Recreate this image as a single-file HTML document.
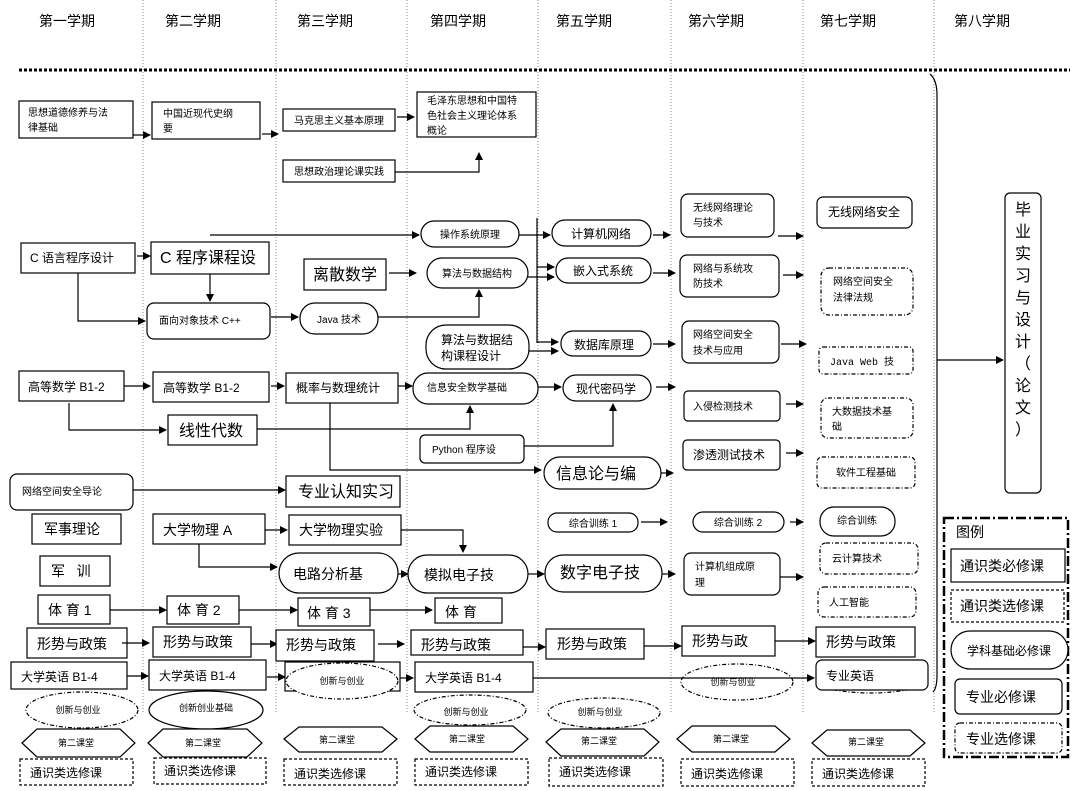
<!DOCTYPE html>
<html><head><meta charset="utf-8"><style>
html,body{margin:0;padding:0;background:#fff;}
svg{display:block;}
text{font-family:"Liberation Sans","Noto Sans CJK SC",sans-serif;fill:#000;}
.s{font-size:10px;}
.m{font-size:12px;}
.l{font-size:14px;}
.x{font-size:16px;}
.h{font-size:14px;}
rect,ellipse,polygon,path.b{fill:#fff;stroke:#000;stroke-width:1.2;}
.d{stroke-dasharray:4 2 1 2;}
.dd{stroke-dasharray:3 2;}
line,polyline{stroke:#000;stroke-width:1.2;fill:none;}
.col{stroke:#888;stroke-width:1;stroke-dasharray:1 2;}
</style></head><body>
<svg width="1084" height="791" viewBox="0 0 1084 791" xmlns="http://www.w3.org/2000/svg">
<defs><marker id="a" markerWidth="8" markerHeight="8" refX="7" refY="4" orient="auto" markerUnits="userSpaceOnUse"><path d="M0,0 L8,4 L0,8 z" fill="#000"/></marker></defs>

<!-- column lines -->
<line class="col" x1="143" y1="0" x2="143" y2="712"/>
<line class="col" x1="276" y1="0" x2="276" y2="712"/>
<line class="col" x1="407" y1="0" x2="407" y2="712"/>
<line class="col" x1="538" y1="0" x2="538" y2="712"/>
<line class="col" x1="671" y1="0" x2="671" y2="712"/>
<line class="col" x1="803" y1="0" x2="803" y2="712"/>
<line class="col" x1="934" y1="0" x2="934" y2="712"/>

<g class="h" text-anchor="middle">
<text x="67" y="26">第一学期</text><text x="193" y="26">第二学期</text><text x="325" y="26">第三学期</text><text x="458" y="26">第四学期</text>
<text x="584" y="26">第五学期</text><text x="716" y="26">第六学期</text><text x="848" y="26">第七学期</text><text x="982" y="26">第八学期</text>
</g>
<line x1="19" y1="70" x2="1070" y2="70" style="stroke-width:3;stroke-dasharray:3 2"/>
<path d="M930,74 Q937,80 937,95 L937,675 Q937,688 933,692" fill="none" stroke="#000" stroke-width="1.2"/>

<!-- row 1 -->
<rect x="19" y="101" width="114" height="37"/><text class="s" x="28" y="116">思想道德修养与法</text><text class="s" x="28" y="131">律基础</text>
<rect x="152" y="102" width="108" height="37"/><text class="s" x="163" y="117">中国近现代史纲</text><text class="s" x="163" y="132">要</text>
<rect x="283" y="109" width="112" height="22"/><text class="s" x="339" y="124" text-anchor="middle">马克思主义基本原理</text>
<rect x="417" y="92" width="119" height="45"/><text class="s" x="427" y="104">毛泽东思想和中国特</text><text class="s" x="427" y="119">色社会主义理论体系</text><text class="s" x="427" y="134">概论</text>
<rect x="283" y="160" width="112" height="22"/><text class="s" x="339" y="175" text-anchor="middle">思想政治理论课实践</text>
<line x1="133" y1="135" x2="150" y2="135" marker-end="url(#a)"/>
<line x1="262" y1="134" x2="278" y2="134" marker-end="url(#a)"/>
<line x1="397" y1="117" x2="414" y2="117" marker-end="url(#a)"/>
<polyline points="395,172 479,172 479,153" marker-end="url(#a)"/>

<!-- C row -->
<rect x="21" y="243" width="114" height="30"/><text class="m" x="30" y="262">C 语言程序设计</text>
<rect x="151" y="242" width="118" height="32"/><text class="x" x="160" y="263">C 程序课程设</text>
<line x1="137" y1="256" x2="150" y2="256" marker-end="url(#a)"/>
<rect x="304" y="259" width="82" height="31"/><text class="x" x="345" y="280" text-anchor="middle">离散数学</text>
<line x1="389" y1="273" x2="416" y2="273" marker-end="url(#a)"/>
<rect x="427" y="258" width="101" height="30" rx="15"/><text class="s" x="477" y="277" text-anchor="middle">算法与数据结构</text>
<rect x="147" y="303" width="123" height="36" rx="7"/><text class="s" x="159" y="324">面向对象技术 C++</text>
<line x1="210" y1="274" x2="210" y2="301" marker-end="url(#a)"/>
<polyline points="78,273 78,321 145,321" marker-end="url(#a)"/>
<rect x="300" y="303" width="78" height="31" rx="15"/><text class="s" x="339" y="323" text-anchor="middle">Java 技术</text>
<line x1="271" y1="317" x2="298" y2="317" marker-end="url(#a)"/>
<polyline points="378,317 479,317 479,290" marker-end="url(#a)"/>
<rect x="421" y="221" width="98" height="26" rx="13"/><text class="s" x="470" y="238" text-anchor="middle">操作系统原理</text>
<line x1="210" y1="235" x2="419" y2="235" marker-end="url(#a)"/>
<rect x="426" y="325" width="103" height="44" rx="20"/><text class="m" x="441" y="344">算法与数据结</text><text class="m" x="441" y="360">构课程设计</text>

<!-- math row -->
<rect x="19" y="371" width="105" height="30"/><text class="m" x="28" y="391">高等数学 B1-2</text>
<line x1="124" y1="386" x2="150" y2="386" marker-end="url(#a)"/>
<rect x="153" y="372" width="116" height="30"/><text class="m" x="163" y="392">高等数学 B1-2</text>
<line x1="271" y1="386" x2="284" y2="386" marker-end="url(#a)"/>
<rect x="286" y="373" width="112" height="30"/><text class="m" x="296" y="392">概率与数理统计</text>
<line x1="398" y1="386" x2="412" y2="386" marker-end="url(#a)"/>
<rect x="413" y="373" width="125" height="31" rx="15"/><text class="s" x="427" y="391">信息安全数学基础</text>
<rect x="168" y="415" width="89" height="30"/><text class="x" x="179" y="436">线性代数</text>
<polyline points="69,403 69,430 166,430" marker-end="url(#a)"/>
<polyline points="257,429 470,429 470,406" marker-end="url(#a)"/>
<polyline points="330,403 330,470 541,470" marker-end="url(#a)"/>
<rect x="420" y="435" width="104" height="28" rx="5"/><text class="s" x="432" y="453">Python 程序设</text>
<polyline points="524,446 613,446 613,404" marker-end="url(#a)"/>

<!-- col5 -->
<line x1="537" y1="218" x2="537" y2="343"/>
<line x1="519" y1="235" x2="550" y2="235" marker-end="url(#a)"/>
<line x1="537" y1="267" x2="554" y2="267" marker-end="url(#a)"/>
<line x1="528" y1="277" x2="554" y2="277" marker-end="url(#a)"/>
<line x1="537" y1="342" x2="558" y2="342" marker-end="url(#a)"/>
<line x1="529" y1="351" x2="558" y2="351" marker-end="url(#a)"/>
<line x1="538" y1="387" x2="561" y2="387" marker-end="url(#a)"/>
<rect x="552" y="220" width="99" height="26" rx="13"/><text class="m" x="601" y="238" text-anchor="middle">计算机网络</text>
<rect x="556" y="258" width="95" height="25" rx="12"/><text class="m" x="603" y="275" text-anchor="middle">嵌入式系统</text>
<rect x="561" y="331" width="90" height="25" rx="12"/><text class="m" x="604" y="349" text-anchor="middle">数据库原理</text>
<rect x="563" y="375" width="88" height="26" rx="13"/><text class="m" x="606" y="393" text-anchor="middle">现代密码学</text>
<rect x="544" y="457" width="117" height="32" rx="16"/><text class="x" x="596" y="479" text-anchor="middle">信息论与编</text>
<line x1="653" y1="235" x2="670" y2="235" marker-end="url(#a)"/>
<line x1="653" y1="273" x2="675" y2="273" marker-end="url(#a)"/>
<line x1="653" y1="344" x2="675" y2="344" marker-end="url(#a)"/>
<line x1="656" y1="387" x2="675" y2="387" marker-end="url(#a)"/>
<line x1="661" y1="473" x2="673" y2="473" marker-end="url(#a)"/>

<!-- col6 -->
<rect x="681" y="194" width="93" height="43" rx="7"/><text class="s" x="693" y="211">无线网络理论</text><text class="s" x="693" y="226">与技术</text>
<rect x="680" y="255" width="99" height="42" rx="7"/><text class="s" x="693" y="272">网络与系统攻</text><text class="s" x="693" y="287">防技术</text>
<rect x="682" y="321" width="97" height="42" rx="7"/><text class="s" x="693" y="338">网络空间安全</text><text class="s" x="693" y="354">技术与应用</text>
<rect x="684" y="391" width="96" height="30" rx="4"/><text class="s" x="693" y="410">入侵检测技术</text>
<rect x="683" y="440" width="97" height="30" rx="4"/><text class="m" x="693" y="459">渗透测试技术</text>
<line x1="778" y1="236" x2="803" y2="236" marker-end="url(#a)"/>
<line x1="783" y1="275" x2="803" y2="275" marker-end="url(#a)"/>
<line x1="781" y1="344" x2="806" y2="344" marker-end="url(#a)"/>
<line x1="786" y1="404" x2="803" y2="404" marker-end="url(#a)"/>
<line x1="786" y1="453" x2="803" y2="453" marker-end="url(#a)"/>

<!-- col7 -->
<rect x="817" y="197" width="95" height="31" rx="6"/><text class="m" x="864" y="216" text-anchor="middle">无线网络安全</text>
<rect class="d" x="821" y="268" width="92" height="47" rx="8"/><text class="s" x="833" y="285">网络空间安全</text><text class="s" x="833" y="301">法律法规</text>
<rect class="d" x="819" y="347" width="94" height="27" rx="4"/><text class="s" x="830" y="365" style="font-family:'Liberation Mono','Noto Sans CJK SC',monospace">Java Web 技</text>
<rect class="d" x="821" y="398" width="92" height="40" rx="7"/><text class="s" x="832" y="415">大数据技术基</text><text class="s" x="832" y="430">础</text>
<rect class="d" x="817" y="457" width="98" height="31" rx="5"/><text class="s" x="866" y="476" text-anchor="middle">软件工程基础</text>

<!-- col8 -->
<line x1="937" y1="360" x2="1003" y2="360" marker-end="url(#a)"/>
<rect x="1005" y="193" width="36" height="300" rx="5"/>
<g class="x" text-anchor="middle"><text x="1023" y="215">毕</text><text x="1023" y="237">业</text><text x="1023" y="259">实</text><text x="1023" y="281">习</text><text x="1023" y="303">与</text><text x="1023" y="325">设</text><text x="1023" y="347">计</text><text x="1023" y="369">（</text><text x="1023" y="391">论</text><text x="1023" y="413">文</text><text x="1023" y="435">）</text></g>

<!-- lower rows -->
<rect x="10" y="474" width="123" height="36" rx="7"/><text class="s" x="22" y="495">网络空间安全导论</text>
<line x1="133" y1="490" x2="285" y2="490" marker-end="url(#a)"/>
<rect x="286" y="476" width="114" height="31"/><text class="x" x="298" y="497">专业认知实习</text>
<rect x="32" y="514" width="89" height="30"/><text class="l" x="44" y="534">军事理论</text>
<rect x="153" y="514" width="112" height="30"/><text class="l" x="163" y="535">大学物理 A</text>
<line x1="265" y1="530" x2="287" y2="530" marker-end="url(#a)"/>
<rect x="289" y="515" width="112" height="30"/><text class="l" x="299" y="535">大学物理实验</text>
<polyline points="401,530 463,530 463,552" marker-end="url(#a)"/>
<rect x="40" y="556" width="70" height="30"/><text class="l" x="51" y="576">军 &#160; 训</text>
<rect x="279" y="553" width="119" height="40" rx="20"/><text class="l" x="293" y="579">电路分析基</text>
<polyline points="199,544 199,567 277,567" marker-end="url(#a)"/>
<line x1="398" y1="574" x2="408" y2="574" marker-end="url(#a)"/>
<rect x="408" y="555" width="120" height="38" rx="19"/><text class="l" x="424" y="580">模拟电子技</text>
<line x1="528" y1="574" x2="544" y2="574" marker-end="url(#a)"/>
<rect x="545" y="555" width="117" height="37" rx="18"/><text class="x" x="560" y="578">数字电子技</text>
<line x1="662" y1="574" x2="675" y2="574" marker-end="url(#a)"/>
<rect x="684" y="553" width="96" height="42" rx="7"/><text class="s" x="695" y="570">计算机组成原</text><text class="s" x="695" y="586">理</text>
<line x1="780" y1="577" x2="803" y2="577" marker-end="url(#a)"/>
<rect x="548" y="513" width="90" height="19" rx="9"/><text class="s" x="593" y="527" text-anchor="middle">综合训练 1</text>
<line x1="641" y1="522" x2="667" y2="522" marker-end="url(#a)"/>
<rect x="693" y="512" width="91" height="20" rx="10"/><text class="s" x="738" y="526" text-anchor="middle">综合训练 2</text>
<line x1="790" y1="522" x2="803" y2="522" marker-end="url(#a)"/>
<rect x="820" y="507" width="75" height="29" rx="14"/><text class="s" x="857" y="524" text-anchor="middle">综合训练</text>
<rect class="d" x="820" y="543" width="98" height="31" rx="6"/><text class="s" x="832" y="562">云计算技术</text>
<rect class="d" x="818" y="587" width="98" height="30" rx="6"/><text class="s" x="829" y="606">人工智能</text>

<!-- PE -->
<rect x="38" y="595" width="72" height="29"/><text class="l" x="48" y="615">体 育 1</text>
<line x1="110" y1="610" x2="166" y2="610" marker-end="url(#a)"/>
<rect x="167" y="596" width="72" height="28"/><text class="l" x="177" y="615">体 育 2</text>
<line x1="239" y1="610" x2="297" y2="610" marker-end="url(#a)"/>
<rect x="298" y="598" width="72" height="28"/><text class="l" x="307" y="618">体 育 3</text>
<line x1="370" y1="610" x2="432" y2="610" marker-end="url(#a)"/>
<rect x="435" y="598" width="67" height="25"/><text class="l" x="445" y="617">体 育</text>

<!-- 形势 -->
<rect x="27" y="628" width="100" height="30"/><text class="l" x="37" y="649">形势与政策</text>
<line x1="122" y1="643" x2="149" y2="643" marker-end="url(#a)"/>
<rect x="153" y="627" width="98" height="30"/><text class="l" x="163" y="647">形势与政策</text>
<line x1="251" y1="644" x2="277" y2="644" marker-end="url(#a)"/>
<rect x="276" y="630" width="98" height="31"/><text class="l" x="286" y="650">形势与政策</text>
<line x1="378" y1="644" x2="404" y2="644" marker-end="url(#a)"/>
<rect x="411" y="630" width="112" height="25"/><text class="l" x="421" y="650">形势与政策</text>
<line x1="523" y1="647" x2="545" y2="647" marker-end="url(#a)"/>
<rect x="546" y="629" width="98" height="30"/><text class="l" x="557" y="649">形势与政策</text>
<line x1="644" y1="646" x2="681" y2="646" marker-end="url(#a)"/>
<rect x="682" y="626" width="93" height="30"/><text class="l" x="692" y="646">形势与政</text>
<line x1="775" y1="641" x2="815" y2="641" marker-end="url(#a)"/>
<rect x="816" y="627" width="99" height="30"/><text class="l" x="826" y="647">形势与政策</text>

<!-- English -->
<rect x="11" y="662" width="116" height="27"/><text class="m" x="21" y="681">大学英语 B1-4</text>
<line x1="127" y1="676" x2="148" y2="676" marker-end="url(#a)"/>
<rect x="149" y="660" width="117" height="30"/><text class="m" x="159" y="680">大学英语 B1-4</text>
<line x1="267" y1="677" x2="285" y2="677" marker-end="url(#a)"/>
<rect x="285" y="662" width="115" height="29"/>
<ellipse class="d" cx="342" cy="681" rx="56" ry="18"/><text class="s" x="342" y="684" text-anchor="middle" style="font-size:9px">创新与创业</text>
<line x1="400" y1="678" x2="413" y2="678" marker-end="url(#a)"/>
<rect x="415" y="662" width="118" height="30"/><text class="m" x="425" y="682">大学英语 B1-4</text>
<ellipse class="d" cx="737" cy="682" rx="56" ry="18"/><text class="s" x="733" y="685" text-anchor="middle" style="font-size:9px">创新与创业</text>
<path class="b d" d="M816,686 Q870,700 926,686"/>
<rect x="816" y="660" width="112" height="30" rx="6"/><text class="m" x="826" y="680">专业英语</text>
<line x1="533" y1="678" x2="814" y2="678" marker-end="url(#a)"/>

<!-- innovation ellipses -->
<ellipse class="d" cx="82" cy="710" rx="56" ry="18"/><text class="s" x="78" y="713" text-anchor="middle" style="font-size:9px">创新与创业</text>
<ellipse cx="206" cy="710" rx="57" ry="19"/><text class="s" x="206" y="711" text-anchor="middle" style="font-size:9px">创新创业基础</text>
<ellipse class="d" cx="470" cy="710" rx="56" ry="15"/><text class="s" x="466" y="715" text-anchor="middle" style="font-size:9px">创新与创业</text>
<ellipse class="d" cx="604" cy="713" rx="56" ry="15"/><text class="s" x="600" y="715" text-anchor="middle" style="font-size:9px">创新与创业</text>

<!-- hexagons -->
<g class="s" text-anchor="middle" style="font-size:9px">
<polygon points="22,743 37,729 120,729 135,743 120,757 37,757"/><text x="76" y="746">第二课堂</text>
<polygon points="148,743 163,729 247,729 262,743 247,757 163,757"/><text x="203" y="746">第二课堂</text>
<polygon points="284,739 299,727 382,727 397,739 382,752 299,752"/><text x="337" y="743">第二课堂</text>
<polygon points="415,739 430,726 513,726 528,739 513,752 430,752"/><text x="467" y="742">第二课堂</text>
<polygon points="546,742 561,729 644,729 659,742 644,756 561,756"/><text x="599" y="744">第二课堂</text>
<polygon points="677,739 692,726 775,726 790,739 775,752 692,752"/><text x="731" y="742">第二课堂</text>
<polygon points="812,743 827,730 910,730 925,743 910,756 827,756"/><text x="866" y="745">第二课堂</text>
</g>

<!-- 通识类选修课 -->
<rect class="dd" x="20" y="759" width="113" height="26"/><text class="m" x="30" y="777">通识类选修课</text>
<rect class="dd" x="154" y="758" width="112" height="26"/><text class="m" x="164" y="775">通识类选修课</text>
<rect class="dd" x="284" y="759" width="113" height="26"/><text class="m" x="294" y="778">通识类选修课</text>
<rect class="dd" x="415" y="759" width="113" height="26"/><text class="m" x="425" y="776">通识类选修课</text>
<rect class="dd" x="549" y="758" width="114" height="28"/><text class="m" x="559" y="776">通识类选修课</text>
<rect class="dd" x="681" y="759" width="113" height="27"/><text class="m" x="691" y="778">通识类选修课</text>
<rect class="dd" x="812" y="759" width="113" height="27"/><text class="m" x="822" y="778">通识类选修课</text>

<!-- legend -->
<rect x="944" y="518" width="124" height="239" style="stroke-width:2.5;stroke-dasharray:10 3 2 3;fill:none"/>
<text class="l" x="956" y="537">图例</text>
<rect x="951" y="549" width="114" height="33"/><text class="l" x="960" y="571">通识类必修课</text>
<rect class="dd" x="951" y="590" width="113" height="32"/><text class="l" x="960" y="611">通识类选修课</text>
<rect x="951" y="631" width="117" height="38" rx="19"/><text class="m" x="1009" y="655" text-anchor="middle">学科基础必修课</text>
<rect x="955" y="679" width="107" height="35" rx="5"/><text class="l" x="966" y="702">专业必修课</text>
<rect class="d" x="955" y="723" width="107" height="30" rx="5"/><text class="l" x="966" y="744">专业选修课</text>
</svg>
</body></html>
